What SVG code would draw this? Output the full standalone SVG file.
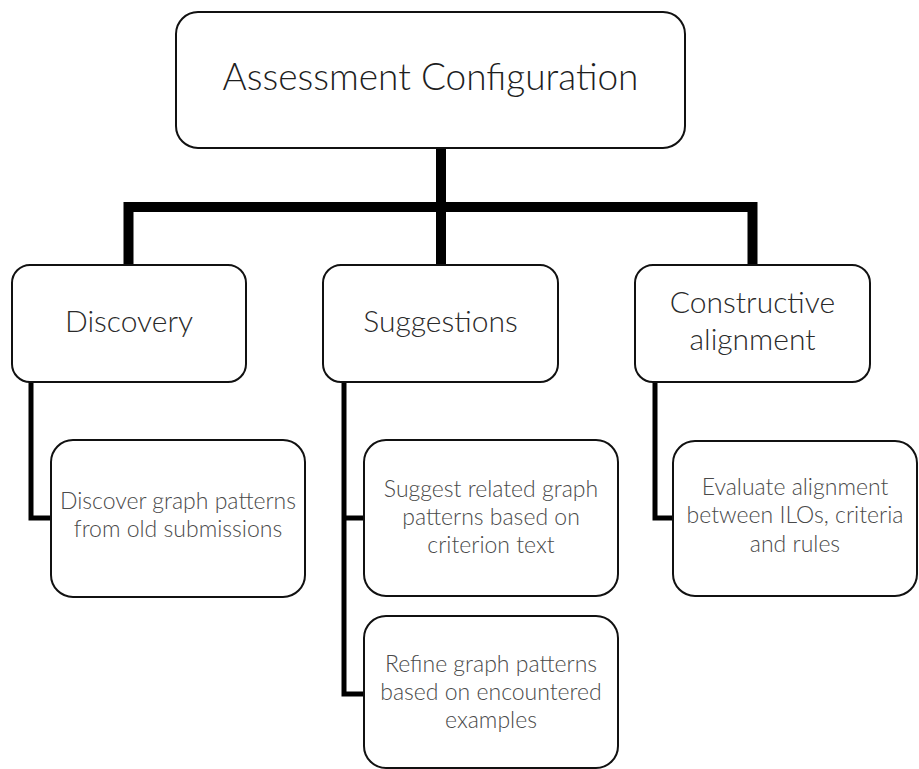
<svg xmlns="http://www.w3.org/2000/svg" width="919" height="769" viewBox="0 0 919 769">
  <style>
    .box { fill: #ffffff; stroke: #111111; stroke-width: 2; }
    .trunk { fill: none; stroke: #000000; stroke-width: 10; stroke-linejoin: miter; stroke-linecap: butt; }
    .branch { fill: none; stroke: #000000; stroke-width: 5; stroke-linejoin: miter; stroke-linecap: butt; }
    text { font-family: Lato, "Liberation Sans", sans-serif; text-anchor: middle; }
    .title { font-size: 37px; fill: #1e1e1e; font-weight: 300; }
    .l1 { font-size: 30px; fill: #2a2a2a; font-weight: 300; }
    .l2 { font-size: 23px; fill: #4a4a4a; font-weight: 300; }
  </style>

  <!-- connectors -->
  <g id="connectors">
    <path class="trunk" d="M441,147 V266"/>
    <path class="trunk" d="M128.5,266 V207 H752.5 V266"/>
    <path class="branch" d="M31,381 V518 H52"/>
    <path class="branch" d="M344,381 V694 H365"/>
    <path class="branch" d="M344,518 H365"/>
    <path class="branch" d="M655,381 V518 H674"/>
  </g>

  <g id="assessment-configuration">
    <rect class="box" x="176" y="12" width="509" height="136" rx="22"/>
    <text class="title" x="430.5" y="90">Assessment Configuration</text>
  </g>

  <g id="discovery">
    <rect class="box" x="12" y="265" width="234" height="117" rx="18"/>
    <text class="l1" x="129" y="332">Discovery</text>
  </g>

  <g id="suggestions">
    <rect class="box" x="323" y="265" width="235" height="117" rx="18"/>
    <text class="l1" x="440.5" y="332">Suggestions</text>
  </g>

  <g id="constructive-alignment">
    <rect class="box" x="635" y="265" width="235" height="117" rx="18"/>
    <text class="l1" x="752.5" y="313">Constructive</text>
    <text class="l1" x="752.5" y="350">alignment</text>
  </g>

  <g id="discover-patterns">
    <rect class="box" x="51" y="440" width="254" height="157" rx="22"/>
    <text class="l2" x="178" y="509">Discover graph patterns</text>
    <text class="l2" x="178" y="537">from old submissions</text>
  </g>

  <g id="suggest-patterns">
    <rect class="box" x="364" y="440" width="254" height="156" rx="22"/>
    <text class="l2" x="491" y="497">Suggest related graph</text>
    <text class="l2" x="491" y="525">patterns based on</text>
    <text class="l2" x="491" y="553">criterion text</text>
  </g>

  <g id="refine-patterns">
    <rect class="box" x="364" y="616" width="254" height="152" rx="22"/>
    <text class="l2" x="491" y="672">Refine graph patterns</text>
    <text class="l2" x="491" y="700">based on encountered</text>
    <text class="l2" x="491" y="728">examples</text>
  </g>

  <g id="evaluate-alignment">
    <rect class="box" x="673" y="441" width="244" height="155" rx="22"/>
    <text class="l2" x="795" y="495">Evaluate alignment</text>
    <text class="l2" x="795" y="523">between ILOs, criteria</text>
    <text class="l2" x="795" y="552">and rules</text>
  </g>
</svg>
